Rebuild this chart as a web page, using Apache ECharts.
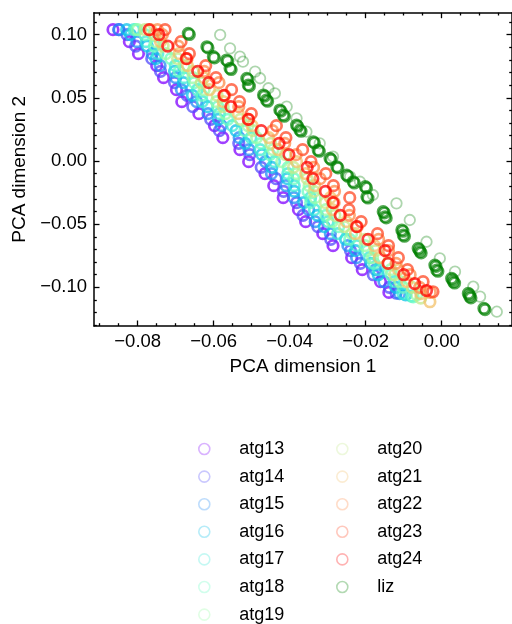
<!DOCTYPE html>
<html>
<head>
<meta charset="utf-8">
<script src="https://cdn.jsdelivr.net/npm/echarts@6/dist/echarts.min.js"></script>
<style>
html,body{margin:0;padding:0;background:#fff;}
#chart{width:512px;height:624px;}
</style>
</head>
<body>
<div id="chart"></div>
<script>
// ---- data (PCA dimension 1, PCA dimension 2) ----
const seriesNames = ['atg13','atg14','atg15','atg16','atg17','atg18','atg19','atg20','atg21','atg22','atg23','atg24','liz'];

const atg13 = [[-0.0865,0.1040],[-0.0822,0.0945],[-0.0798,0.0850],[-0.0750,0.0755],[-0.0732,0.0660],[-0.0698,0.0565],[-0.0684,0.0470],[-0.0639,0.0375],[-0.0598,0.0280],[-0.0576,0.0185],[-0.0531,0.0090],[-0.0508,-0.0005],[-0.0465,-0.0100],[-0.0442,-0.0195],[-0.0417,-0.0290],[-0.0377,-0.0385],[-0.0358,-0.0480],[-0.0313,-0.0575],[-0.0286,-0.0670],[-0.0237,-0.0765],[-0.0209,-0.0860],[-0.0161,-0.0955],[-0.0139,-0.1040]];
const atg14 = [[-0.0850,0.1040],[-0.0828,0.1000],[-0.0805,0.0910],[-0.0763,0.0810],[-0.0740,0.0710],[-0.0703,0.0620],[-0.0670,0.0520],[-0.0655,0.0430],[-0.0608,0.0330],[-0.0585,0.0240],[-0.0534,0.0140],[-0.0505,0.0050],[-0.0475,-0.0050],[-0.0436,-0.0140],[-0.0416,-0.0240],[-0.0382,-0.0330],[-0.0365,-0.0430],[-0.0326,-0.0520],[-0.0292,-0.0620],[-0.0240,-0.0710],[-0.0214,-0.0810],[-0.0180,-0.0900],[-0.0138,-0.1000],[-0.0120,-0.1045]];
const atg15 = [[-0.0849,0.1040],[-0.0802,0.0945],[-0.0762,0.0850],[-0.0741,0.0755],[-0.0700,0.0660],[-0.0685,0.0565],[-0.0645,0.0470],[-0.0615,0.0375],[-0.0580,0.0280],[-0.0533,0.0185],[-0.0507,0.0090],[-0.0464,-0.0005],[-0.0448,-0.0100],[-0.0410,-0.0195],[-0.0389,-0.0290],[-0.0350,-0.0385],[-0.0333,-0.0480],[-0.0293,-0.0575],[-0.0247,-0.0670],[-0.0224,-0.0765],[-0.0174,-0.0860],[-0.0152,-0.0955],[-0.0111,-0.1050]];
const atg16 = [[-0.0829,0.1040],[-0.0819,0.1000],[-0.0775,0.0910],[-0.0752,0.0810],[-0.0703,0.0710],[-0.0680,0.0620],[-0.0656,0.0520],[-0.0616,0.0430],[-0.0588,0.0330],[-0.0541,0.0240],[-0.0517,0.0140],[-0.0473,0.0050],[-0.0447,-0.0050],[-0.0406,-0.0140],[-0.0388,-0.0240],[-0.0363,-0.0330],[-0.0327,-0.0430],[-0.0309,-0.0520],[-0.0253,-0.0620],[-0.0227,-0.0710],[-0.0186,-0.0810],[-0.0167,-0.0900],[-0.0121,-0.1000],[-0.0095,-0.1060]];
const atg17 = [[-0.0810,0.1040],[-0.0778,0.0945],[-0.0747,0.0850],[-0.0701,0.0755],[-0.0678,0.0660],[-0.0643,0.0565],[-0.0630,0.0470],[-0.0585,0.0375],[-0.0551,0.0280],[-0.0502,0.0185],[-0.0478,0.0090],[-0.0440,-0.0005],[-0.0405,-0.0100],[-0.0388,-0.0195],[-0.0345,-0.0290],[-0.0335,-0.0385],[-0.0299,-0.0480],[-0.0274,-0.0575],[-0.0224,-0.0670],[-0.0190,-0.0765],[-0.0167,-0.0860],[-0.0124,-0.0955],[-0.0102,-0.1050],[-0.0080,-0.1070]];
const atg18 = [[-0.0805,0.1040],[-0.0781,0.1000],[-0.0756,0.0910],[-0.0713,0.0810],[-0.0691,0.0710],[-0.0651,0.0620],[-0.0631,0.0520],[-0.0589,0.0430],[-0.0563,0.0330],[-0.0518,0.0240],[-0.0475,0.0140],[-0.0452,0.0050],[-0.0404,-0.0050],[-0.0389,-0.0140],[-0.0352,-0.0240],[-0.0345,-0.0330],[-0.0305,-0.0430],[-0.0271,-0.0520],[-0.0242,-0.0620],[-0.0195,-0.0710],[-0.0178,-0.0810],[-0.0133,-0.0900],[-0.0102,-0.1000],[-0.0075,-0.1075]];
const atg19 = [[-0.0800,0.1040],[-0.0753,0.0945],[-0.0726,0.0850],[-0.0678,0.0755],[-0.0655,0.0660],[-0.0625,0.0565],[-0.0593,0.0470],[-0.0569,0.0375],[-0.0510,0.0280],[-0.0487,0.0185],[-0.0444,0.0090],[-0.0421,-0.0005],[-0.0382,-0.0100],[-0.0349,-0.0195],[-0.0333,-0.0290],[-0.0305,-0.0385],[-0.0288,-0.0480],[-0.0237,-0.0575],[-0.0202,-0.0670],[-0.0182,-0.0765],[-0.0134,-0.0860],[-0.0110,-0.0955],[-0.0066,-0.1060]];
const atg20 = [[-0.0781,0.1040],[-0.0756,0.1000],[-0.0733,0.0910],[-0.0695,0.0810],[-0.0654,0.0710],[-0.0633,0.0620],[-0.0591,0.0520],[-0.0575,0.0430],[-0.0530,0.0330],[-0.0497,0.0240],[-0.0450,0.0140],[-0.0411,0.0050],[-0.0390,-0.0050],[-0.0354,-0.0140],[-0.0336,-0.0240],[-0.0306,-0.0330],[-0.0281,-0.0430],[-0.0256,-0.0520],[-0.0202,-0.0620],[-0.0174,-0.0710],[-0.0142,-0.0810],[-0.0124,-0.0900],[-0.0078,-0.1000],[-0.0055,-0.1085]];
const atg21 = [[-0.0766,0.1040],[-0.0740,0.0945],[-0.0691,0.0850],[-0.0669,0.0755],[-0.0626,0.0660],[-0.0611,0.0565],[-0.0575,0.0470],[-0.0535,0.0375],[-0.0499,0.0280],[-0.0455,0.0185],[-0.0431,0.0090],[-0.0382,-0.0005],[-0.0358,-0.0100],[-0.0334,-0.0195],[-0.0293,-0.0290],[-0.0288,-0.0385],[-0.0251,-0.0480],[-0.0227,-0.0575],[-0.0177,-0.0670],[-0.0164,-0.0765],[-0.0114,-0.0860],[-0.0092,-0.0955],[-0.0055,-0.1050],[-0.0031,-0.1114]];
const atg22 = [[-0.0748,0.1040],[-0.0735,0.1000],[-0.0693,0.0910],[-0.0670,0.0810],[-0.0625,0.0710],[-0.0586,0.0620],[-0.0571,0.0520],[-0.0534,0.0430],[-0.0508,0.0330],[-0.0445,0.0240],[-0.0413,0.0140],[-0.0383,0.0050],[-0.0337,-0.0050],[-0.0320,-0.0140],[-0.0282,-0.0240],[-0.0283,-0.0330],[-0.0243,-0.0430],[-0.0222,-0.0520],[-0.0166,-0.0620],[-0.0140,-0.0710],[-0.0120,-0.0810],[-0.0083,-0.0900],[-0.0058,-0.1000],[-0.0030,-0.1040]];
const atg23 = [[-0.0728,0.1040],[-0.0686,0.0945],[-0.0664,0.0850],[-0.0621,0.0755],[-0.0594,0.0660],[-0.0553,0.0565],[-0.0532,0.0470],[-0.0501,0.0375],[-0.0435,0.0280],[-0.0410,0.0185],[-0.0366,0.0090],[-0.0344,-0.0005],[-0.0305,-0.0100],[-0.0285,-0.0195],[-0.0242,-0.0290],[-0.0244,-0.0385],[-0.0212,-0.0480],[-0.0169,-0.0575],[-0.0140,-0.0670],[-0.0114,-0.0765],[-0.0090,-0.0860],[-0.0049,-0.0955],[-0.0023,-0.1035]];
const atg24 = [[-0.0770,0.1040],[-0.0744,0.1000],[-0.0721,0.0910],[-0.0672,0.0810],[-0.0642,0.0710],[-0.0613,0.0620],[-0.0573,0.0520],[-0.0555,0.0430],[-0.0509,0.0330],[-0.0475,0.0240],[-0.0428,0.0140],[-0.0402,0.0050],[-0.0354,-0.0050],[-0.0339,-0.0140],[-0.0306,-0.0240],[-0.0286,-0.0330],[-0.0267,-0.0430],[-0.0224,-0.0520],[-0.0194,-0.0620],[-0.0149,-0.0710],[-0.0141,-0.0810],[-0.0100,-0.0900],[-0.0071,-0.0970],[-0.0040,-0.1025]];
// liz: dense replicate clusters and the lighter, more scattered outer points
const lizCore = [[-0.0667,0.1011],[-0.0664,0.1001],[-0.0618,0.0905],[-0.0615,0.0895],[-0.0601,0.0826],[-0.0598,0.0816],[-0.0566,0.0800],[-0.0563,0.0790],[-0.0557,0.0734],[-0.0554,0.0724],[-0.0513,0.0655],[-0.0510,0.0645],[-0.0509,0.0602],[-0.0506,0.0592],[-0.0469,0.0523],[-0.0466,0.0513],[-0.0461,0.0483],[-0.0458,0.0473],[-0.0426,0.0404],[-0.0423,0.0394],[-0.0417,0.0364],[-0.0414,0.0354],[-0.0382,0.0285],[-0.0379,0.0275],[-0.0373,0.0245],[-0.0370,0.0235],[-0.0338,0.0153],[-0.0335,0.0143],[-0.0325,0.0087],[-0.0322,0.0077],[-0.0294,0.0021],[-0.0291,0.0011],[-0.0276,-0.0045],[-0.0273,-0.0055],[-0.0250,-0.0111],[-0.0247,-0.0121],[-0.0233,-0.0164],[-0.0230,-0.0174],[-0.0201,-0.0203],[-0.0198,-0.0213],[-0.0197,-0.0283],[-0.0194,-0.0293],[-0.0154,-0.0401],[-0.0151,-0.0411],[-0.0149,-0.0441],[-0.0146,-0.0451],[-0.0105,-0.0546],[-0.0102,-0.0556],[-0.0101,-0.0586],[-0.0098,-0.0596],[-0.0062,-0.0691],[-0.0059,-0.0701],[-0.0057,-0.0718],[-0.0054,-0.0728],[-0.0018,-0.0824],[-0.0015,-0.0834],[-0.0013,-0.0863],[-0.0010,-0.0873],[0.0026,-0.0929],[0.0029,-0.0939],[0.0031,-0.0956],[0.0034,-0.0966],[0.0070,-0.1048],[0.0073,-0.1058],[0.0074,-0.1074],[0.0077,-0.1084],[0.0111,-0.1166],[0.0114,-0.1176]];
const lizOuter = [[-0.0583,0.0998],[-0.0557,0.0892],[-0.0531,0.0826],[-0.0523,0.0786],[-0.0491,0.0707],[-0.0478,0.0655],[-0.0456,0.0576],[-0.0439,0.0536],[-0.0408,0.0430],[-0.0382,0.0338],[-0.0356,0.0232],[-0.0321,0.0140],[-0.0286,0.0034],[-0.0241,-0.0124],[-0.0215,-0.0164],[-0.0181,-0.0269],[-0.0119,-0.0335],[-0.0084,-0.0467],[-0.0040,-0.0639],[-0.0005,-0.0771],[0.0035,-0.0876],[0.0083,-0.0995],[0.0101,-0.1074],[0.0145,-0.1193]];

const xMajorTicks = [-0.08,-0.06,-0.04,-0.02,0.00];
const xMinorTicks = [-0.09,-0.085,-0.075,-0.07,-0.065,-0.055,-0.05,-0.045,-0.035,-0.03,-0.025,-0.015,-0.01,-0.005,0.005,0.01,0.015];
const yMajorTicks = [-0.10,-0.05,0.00,0.05,0.10];
const yMinorTicks = [-0.13,-0.12,-0.11,-0.09,-0.08,-0.07,-0.06,-0.04,-0.03,-0.02,-0.01,0.01,0.02,0.03,0.04,0.06,0.07,0.08,0.09,0.11];
const xRange = [-0.0915, 0.0185];
const yRange = [-0.1306, 0.1174];

// ---- styles ----
const seriesColors = ['#8000ff','#5148fc','#238af5','#0cc1e8','#3ae8d7','#68fcc1','#97fca7','#c5e88a','#f3c16a','#ff8a48','#ff4824','#ff0000','#008000'];
const FONT = '"Liberation Sans", Arial, Helvetica, sans-serif';

const fmt = v => { const s = Number(v).toFixed(2); return (s === '-0.00' ? '0.00' : s).replace('-', '\u2212'); };

function makeAxis(pos, range, major, minor, isMajor, extra) {
  const ax = {
    type: 'value', position: pos, min: range[0], max: range[1],
    scale: true,
    splitLine: {show: false},
    axisLine: {show: isMajor, onZero: false, lineStyle: {color: '#000', width: 1.5}},
    axisTick: {show: true, inside: true, length: isMajor ? 5.5 : 2.8, customValues: isMajor ? major : minor,
               lineStyle: {color: '#000', width: 1.3}},
    axisLabel: {show: false},
    minorTick: {show: false}
  };
  return Object.assign(ax, extra || {});
}

const xAxes = [
  makeAxis('bottom', xRange, xMajorTicks, xMinorTicks, true, {
    axisLabel: {show: true, customValues: xMajorTicks, formatter: fmt, color: '#000', fontSize: 18.5, fontFamily: FONT, margin: 6},
    name: 'PCA dimension 1', nameLocation: 'middle', nameGap: 31,
    nameTextStyle: {color: '#000', fontSize: 19, fontFamily: FONT}
  }),
  makeAxis('bottom', xRange, xMajorTicks, xMinorTicks, false),
  makeAxis('top', xRange, xMajorTicks, xMinorTicks, true),
  makeAxis('top', xRange, xMajorTicks, xMinorTicks, false)
];
const yAxes = [
  makeAxis('left', yRange, yMajorTicks, yMinorTicks, true, {
    axisLabel: {show: true, customValues: yMajorTicks, formatter: fmt, color: '#000', fontSize: 18.5, fontFamily: FONT, margin: 7},
    name: 'PCA dimension 2', nameLocation: 'middle', nameGap: 64,
    nameTextStyle: {color: '#000', fontSize: 19, fontFamily: FONT}
  }),
  makeAxis('left', yRange, yMajorTicks, yMinorTicks, false),
  makeAxis('right', yRange, yMajorTicks, yMinorTicks, true),
  makeAxis('right', yRange, yMajorTicks, yMinorTicks, false)
];

const atgData = [atg13,atg14,atg15,atg16,atg17,atg18,atg19,atg20,atg21,atg22,atg23,atg24];
function scatter(name, data, color, opacity, width) {
  return {
    name: name, type: 'scatter', xAxisIndex: 0, yAxisIndex: 0, data: data,
    symbol: 'circle', symbolSize: 10.5,
    itemStyle: {color: 'rgba(0,0,0,0)', borderColor: color, borderWidth: width, opacity: opacity},
    emphasis: {disabled: true}, animation: false
  };
}
const series = atgData.map((d, i) => scatter(seriesNames[i], d, seriesColors[i], 0.75, 2.7));
series.push(scatter('liz', lizCore, seriesColors[12], 0.68, 2.6));
series.push(scatter('liz', lizOuter, seriesColors[12], 0.32, 1.8));

const legendCommon = {
  orient: 'vertical', top: 440, height: 230, padding: 0,
  itemWidth: 60, itemHeight: 11, itemGap: 9.6,
  icon: 'circle',
  itemStyle: {opacity: 0.3, borderWidth: 1.6},
  textStyle: {color: '#000', fontSize: 18, lineHeight: 17, fontFamily: FONT},
  selectedMode: false
};

const option = {
  backgroundColor: '#fff',
  animation: false,
  grid: {left: 94, right: 0, top: 12.7, bottom: 298, containLabel: false},
  xAxis: xAxes,
  yAxis: yAxes,
  legend: [
    Object.assign({}, legendCommon, {left: 198, data: seriesNames.slice(0, 7)}),
    Object.assign({}, legendCommon, {left: 336, data: seriesNames.slice(7)})
  ],
  series: series
};

const chart = echarts.init(document.getElementById('chart'), null, {renderer: 'canvas'});
chart.setOption(option);
</script>
</body>
</html>
